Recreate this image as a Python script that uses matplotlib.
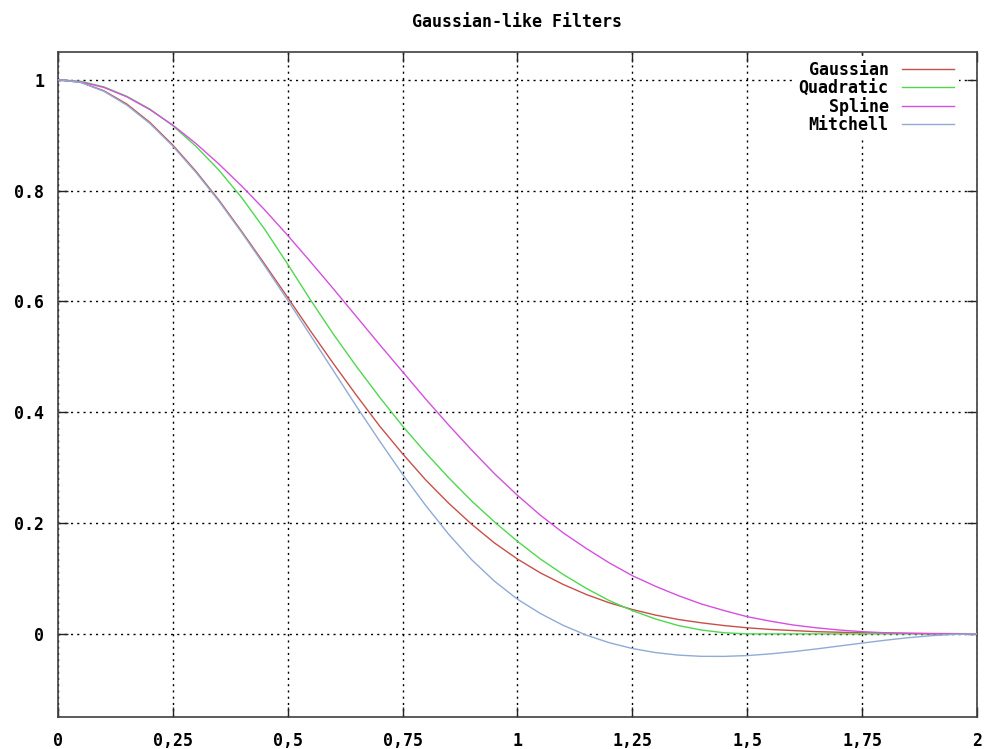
import numpy as np
import matplotlib
matplotlib.use("Agg")
import matplotlib.pyplot as plt

x_samples = np.linspace(0, 2, 41)

gaussian = [1.000, 0.995, 0.980, 0.956, 0.923, 0.882, 0.835, 0.783, 0.726, 0.667,
            0.607, 0.546, 0.487, 0.430, 0.375, 0.325, 0.278, 0.236, 0.198, 0.164,
            0.135, 0.110, 0.089, 0.071, 0.056, 0.044, 0.034, 0.026, 0.020, 0.015,
            0.011, 0.008, 0.006, 0.004, 0.003, 0.002, 0.0015, 0.001, 0.0007, 0.0005,
            0.0003]

quadratic = [1.000, 0.997, 0.987, 0.970, 0.947, 0.917, 0.880, 0.837, 0.787, 0.730,
             0.667, 0.602, 0.540, 0.482, 0.427, 0.375, 0.327, 0.282, 0.240, 0.202,
             0.167, 0.135, 0.107, 0.082, 0.060, 0.042, 0.027, 0.015, 0.007, 0.002,
             0.000, 0.000, 0.000, 0.000, 0.000, 0.000, 0.000, 0.000, 0.000, 0.000,
             0.000]

spline = [1.000, 0.996, 0.986, 0.969, 0.946, 0.918, 0.885, 0.848, 0.808, 0.765,
          0.719, 0.671, 0.622, 0.572, 0.522, 0.473, 0.424, 0.377, 0.332, 0.289,
          0.250, 0.214, 0.182, 0.154, 0.128, 0.105, 0.086, 0.069, 0.054, 0.042,
          0.031, 0.023, 0.016, 0.011, 0.007, 0.004, 0.002, 0.001, 0.0003, 0.00003,
          0.000]

mitchell = [1.000, 0.995, 0.979, 0.954, 0.921, 0.880, 0.833, 0.781, 0.724, 0.664,
            0.602, 0.538, 0.474, 0.410, 0.348, 0.288, 0.232, 0.180, 0.134, 0.095,
            0.0625, 0.0367, 0.0152, -0.0023, -0.016, -0.0264, -0.0337, -0.0383, -0.0405, -0.0406,
            -0.0391, -0.0361, -0.032, -0.0272, -0.0219, -0.0166, -0.0115, -0.0069, -0.0033, -0.0009,
            0.000]

series_names = ["Gaussian", "Quadratic", "Spline", "Mitchell"]
series_colors = ["#c8504a", "#4fd84f", "#d64fe0", "#8fabd6"]

x_ticks = [0, 0.25, 0.5, 0.75, 1, 1.25, 1.5, 1.75, 2]
x_tick_labels = ["0", "0,25", "0,5", "0,75", "1", "1,25", "1,5", "1,75", "2"]
y_ticks = [0, 0.2, 0.4, 0.6, 0.8, 1]
y_tick_labels = ["0", "0.2", "0.4", "0.6", "0.8", "1"]

plt.rcParams["font.family"] = ["DejaVu Sans Mono", "DejaVu Sans"]
plt.rcParams["font.weight"] = "bold"
plt.rcParams["font.size"] = 12

fig = plt.figure(figsize=(9.89, 7.49), dpi=100)
ax = fig.add_axes([0.0586, 0.0427, 0.9293, 0.8879])

for values, name, color in zip([gaussian, quadratic, spline, mitchell], series_names, series_colors):
    ax.plot(x_samples, values, color=color, lw=1.0, label=name, zorder=3)

ax.set_xlim(0, 2)
ax.set_ylim(-0.15, 1.05)
ax.set_xticks(x_ticks)
ax.set_xticklabels(x_tick_labels)
ax.set_yticks(y_ticks)
ax.set_yticklabels(y_tick_labels)

ax.tick_params(direction="in", length=7, width=1, top=True, right=True,
               colors="#222222", labelcolor="black")
ax.tick_params(axis="x", pad=11)
ax.tick_params(axis="y", pad=10)

ax.grid(True, color="black", lw=1.0, linestyle=(0, (1.5, 3)), zorder=1)
ax.set_axisbelow(True)
for sp in ax.spines.values():
    sp.set_color("#404040")
    sp.set_linewidth(1.2)

ax.set_title("Gaussian-like Filters", fontsize=12, fontweight="bold", pad=18)

# gnuplot-style key: labels right-aligned, sample line after the text
leg = ax.legend(loc="upper right", bbox_to_anchor=(0.989, 1.006), markerfirst=False,
                frameon=True, fancybox=False, framealpha=1, facecolor="white",
                edgecolor="none", handlelength=3.1, handletextpad=0.8,
                labelspacing=0.0, borderpad=0.3)
leg.set_zorder(5)

fig.savefig("out.png", dpi=100)
